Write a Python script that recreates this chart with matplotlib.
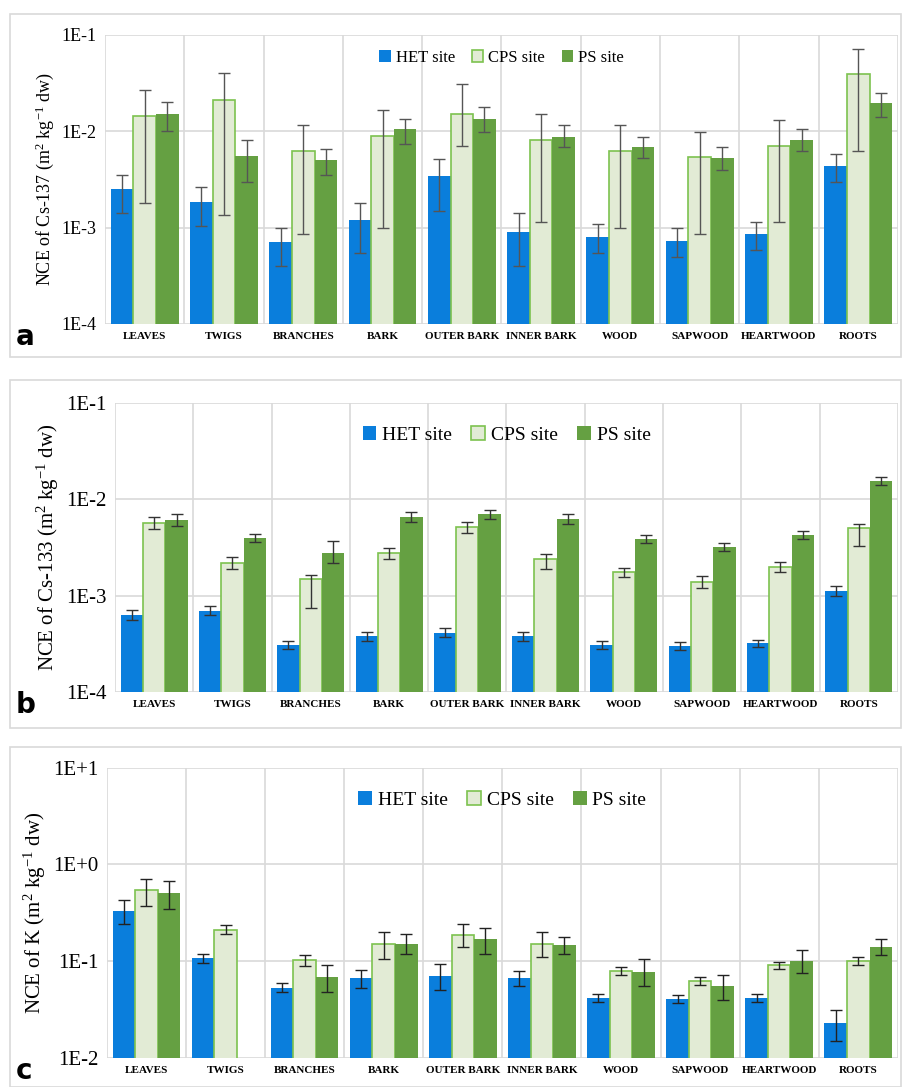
import matplotlib.pyplot as plt
import numpy as np
from matplotlib.patches import Rectangle

plt.rcParams["mathtext.fontset"] = "custom"
plt.rcParams["mathtext.rm"] = "Liberation Serif"
plt.rcParams["mathtext.it"] = "Liberation Serif:italic"

categories = ["LEAVES", "TWIGS", "BRANCHES", "BARK", "OUTER BARK", "INNER BARK",
              "WOOD", "SAPWOOD", "HEARTWOOD", "ROOTS"]
series_names = ["HET site", "CPS site", "PS site"]

# panel a: Cs-137
a_het = [2.5e-3, 1.85e-3, 7e-4, 1.2e-3, 3.4e-3, 9e-4, 8e-4, 7.2e-4, 8.5e-4, 4.4e-3]
a_het_lo = [1.4e-3, 1.05e-3, 4e-4, 5.5e-4, 1.5e-3, 4e-4, 5.5e-4, 5e-4, 5.8e-4, 3e-3]
a_het_hi = [3.5e-3, 2.65e-3, 1e-3, 1.8e-3, 5.2e-3, 1.4e-3, 1.1e-3, 1e-3, 1.15e-3, 5.8e-3]
a_cps = [1.45e-2, 2.1e-2, 6.3e-3, 9e-3, 1.5e-2, 8.1e-3, 6.3e-3, 5.4e-3, 7e-3, 3.9e-2]
a_cps_lo = [1.8e-3, 1.35e-3, 8.5e-4, 1e-3, 7e-3, 1.15e-3, 1e-3, 8.5e-4, 1.15e-3, 6.3e-3]
a_cps_hi = [2.7e-2, 4e-2, 1.15e-2, 1.65e-2, 3.1e-2, 1.5e-2, 1.15e-2, 9.8e-3, 1.3e-2, 7.1e-2]
a_ps = [1.5e-2, 5.5e-3, 5e-3, 1.05e-2, 1.35e-2, 8.8e-3, 6.8e-3, 5.3e-3, 8.1e-3, 1.95e-2]
a_ps_lo = [1e-2, 3e-3, 3.5e-3, 7.3e-3, 9.8e-3, 6.9e-3, 5.3e-3, 4e-3, 6.3e-3, 1.4e-2]
a_ps_hi = [2e-2, 8.1e-3, 6.6e-3, 1.35e-2, 1.8e-2, 1.15e-2, 8.8e-3, 6.9e-3, 1.05e-2, 2.5e-2]

# panel b: Cs-133
b_het = [6.3e-4, 7e-4, 3.1e-4, 3.8e-4, 4.1e-4, 3.8e-4, 3.1e-4, 3e-4, 3.2e-4, 1.12e-3]
b_het_lo = [5.6e-4, 6.3e-4, 2.8e-4, 3.4e-4, 3.7e-4, 3.4e-4, 2.8e-4, 2.7e-4, 2.9e-4, 1.0e-3]
b_het_hi = [7.1e-4, 7.8e-4, 3.4e-4, 4.2e-4, 4.6e-4, 4.2e-4, 3.4e-4, 3.3e-4, 3.5e-4, 1.25e-3]
b_cps = [5.7e-3, 2.2e-3, 1.5e-3, 2.75e-3, 5.1e-3, 2.4e-3, 1.75e-3, 1.4e-3, 2e-3, 5e-3]
b_cps_lo = [4.9e-3, 1.9e-3, 7.5e-4, 2.4e-3, 4.5e-3, 1.9e-3, 1.55e-3, 1.2e-3, 1.75e-3, 3.3e-3]
b_cps_hi = [6.5e-3, 2.5e-3, 1.65e-3, 3.1e-3, 5.8e-3, 2.7e-3, 1.95e-3, 1.6e-3, 2.25e-3, 5.5e-3]
b_ps = [6.1e-3, 4e-3, 2.8e-3, 6.5e-3, 7e-3, 6.2e-3, 3.9e-3, 3.2e-3, 4.3e-3, 1.55e-2]
b_ps_lo = [5.3e-3, 3.6e-3, 2.2e-3, 5.8e-3, 6.3e-3, 5.5e-3, 3.5e-3, 2.9e-3, 3.9e-3, 1.4e-2]
b_ps_hi = [7e-3, 4.4e-3, 3.7e-3, 7.3e-3, 7.8e-3, 7e-3, 4.3e-3, 3.5e-3, 4.7e-3, 1.7e-2]

# panel c: K
c_het = [0.33, 0.107, 0.053, 0.067, 0.07, 0.067, 0.042, 0.041, 0.042, 0.023]
c_het_lo = [0.24, 0.097, 0.048, 0.053, 0.05, 0.055, 0.038, 0.037, 0.038, 0.015]
c_het_hi = [0.43, 0.118, 0.059, 0.082, 0.093, 0.08, 0.046, 0.045, 0.046, 0.031]
c_cps = [0.55, 0.21, 0.103, 0.15, 0.185, 0.15, 0.08, 0.063, 0.091, 0.1]
c_cps_lo = [0.37, 0.19, 0.09, 0.105, 0.14, 0.11, 0.072, 0.057, 0.083, 0.091]
c_cps_hi = [0.71, 0.235, 0.115, 0.2, 0.24, 0.2, 0.087, 0.069, 0.099, 0.11]
c_ps = [0.51, np.nan, 0.069, 0.152, 0.168, 0.147, 0.078, 0.055, 0.1, 0.142]
c_ps_lo = [0.35, np.nan, 0.048, 0.12, 0.12, 0.12, 0.055, 0.04, 0.075, 0.115]
c_ps_hi = [0.67, np.nan, 0.092, 0.19, 0.22, 0.18, 0.105, 0.072, 0.13, 0.17]

colors = dict(het="#0A7EDC", cps_face="#E2EBD5", cps_edge="#7DC24F", ps="#65A042")
GRID = "#D9D9D9"
SERIF = ["Liberation Serif", "DejaVu Serif"]

fig = plt.figure(figsize=(9.06, 10.87), dpi=100)

panels = [
    dict(frame=(0.011, 0.672, 0.983, 0.315), ax=(0.116, 0.702, 0.875, 0.266),
         data=[(a_het, a_het_lo, a_het_hi), (a_cps, a_cps_lo, a_cps_hi), (a_ps, a_ps_lo, a_ps_hi)],
         ylim=(1e-4, 1e-1), ticks=[1e-4, 1e-3, 1e-2, 1e-1], tl=["1E-4", "1E-3", "1E-2", "1E-1"],
         ylabel="NCE of Cs-137 (m$^2$ kg$^{-1}$ dw)", label="a", legfs=12, tickfs=13,
         labelfs=13, ecol="#555555", leg_y=1.0),
    dict(frame=(0.011, 0.330, 0.983, 0.320), ax=(0.127, 0.3634, 0.864, 0.266),
         data=[(b_het, b_het_lo, b_het_hi), (b_cps, b_cps_lo, b_cps_hi), (b_ps, b_ps_lo, b_ps_hi)],
         ylim=(1e-4, 1e-1), ticks=[1e-4, 1e-3, 1e-2, 1e-1], tl=["1E-4", "1E-3", "1E-2", "1E-1"],
         ylabel="NCE of Cs-133 (m$^2$ kg$^{-1}$ dw)", label="b", legfs=14, tickfs=15,
         labelfs=15, ecol="#333333", leg_y=0.98),
    dict(frame=(0.011, 0.0, 0.983, 0.313), ax=(0.118, 0.0267, 0.873, 0.267),
         data=[(c_het, c_het_lo, c_het_hi), (c_cps, c_cps_lo, c_cps_hi), (c_ps, c_ps_lo, c_ps_hi)],
         ylim=(1e-2, 1e1), ticks=[1e-2, 1e-1, 1e0, 1e1], tl=["1E-2", "1E-1", "1E+0", "1E+1"],
         ylabel="NCE of K (m$^2$ kg$^{-1}$ dw)", label="c", legfs=14, tickfs=15,
         labelfs=15, ecol="#222222", leg_y=0.98),
]

x = np.arange(len(categories))
width = 0.285
for p in panels:
    fig.patches.append(Rectangle(p["frame"][:2], p["frame"][2], p["frame"][3],
                                 transform=fig.transFigure, fill=False,
                                 edgecolor=GRID, linewidth=1.2))
    ax = fig.add_axes(p["ax"])
    ax.set_yscale("log")
    ax.set_ylim(*p["ylim"])
    ax.set_xlim(-0.5, len(categories) - 0.5)
    for t in p["ticks"]:
        ax.axhline(t, color=GRID, linewidth=1.2, zorder=0)
    for xv in np.arange(-0.5, len(categories) + 0.5, 1):
        ax.axvline(xv, color=GRID, linewidth=1.2, zorder=0)
    for i, (vals, lo, hi) in enumerate(p["data"]):
        vals = np.array(vals)
        yerr = np.array([vals - np.array(lo), np.array(hi) - vals])
        pos = x + (i - 1) * width
        if i == 0:
            kw = dict(color=colors["het"])
        elif i == 1:
            kw = dict(color=colors["cps_face"], edgecolor=colors["cps_edge"], linewidth=1.2)
        else:
            kw = dict(color=colors["ps"])
        ax.bar(pos, vals, width, label=series_names[i], zorder=2, **kw)
        ax.errorbar(pos, vals, yerr=yerr, fmt="none", ecolor=p["ecol"],
                    elinewidth=1, capsize=4, capthick=1, zorder=3)
    for s in ax.spines.values():
        s.set_visible(False)
    ax.set_yticks(p["ticks"])
    ax.set_yticklabels(p["tl"], fontfamily=SERIF, fontsize=p["tickfs"])
    ax.minorticks_off()
    ax.tick_params(axis="y", length=0, pad=6)
    ax.set_xticks(x)
    ax.set_xticklabels(categories, fontfamily=SERIF, fontsize=8, fontweight="bold")
    ax.tick_params(axis="x", length=0, pad=6)
    ax.set_ylabel(p["ylabel"], fontfamily=SERIF, fontsize=p["labelfs"])
    ax.legend(loc="upper center", bbox_to_anchor=(0.5, p["leg_y"]), ncol=3, frameon=False,
              prop=dict(family=SERIF, size=p["legfs"]), handlelength=0.7,
              handletextpad=0.3, columnspacing=1.0)
    fig.text(p["frame"][0] + 0.006, p["ax"][1] - 0.012, p["label"], fontsize=20,
             fontweight="bold", va="center", ha="left")

fig.savefig("out.png", dpi=100)
